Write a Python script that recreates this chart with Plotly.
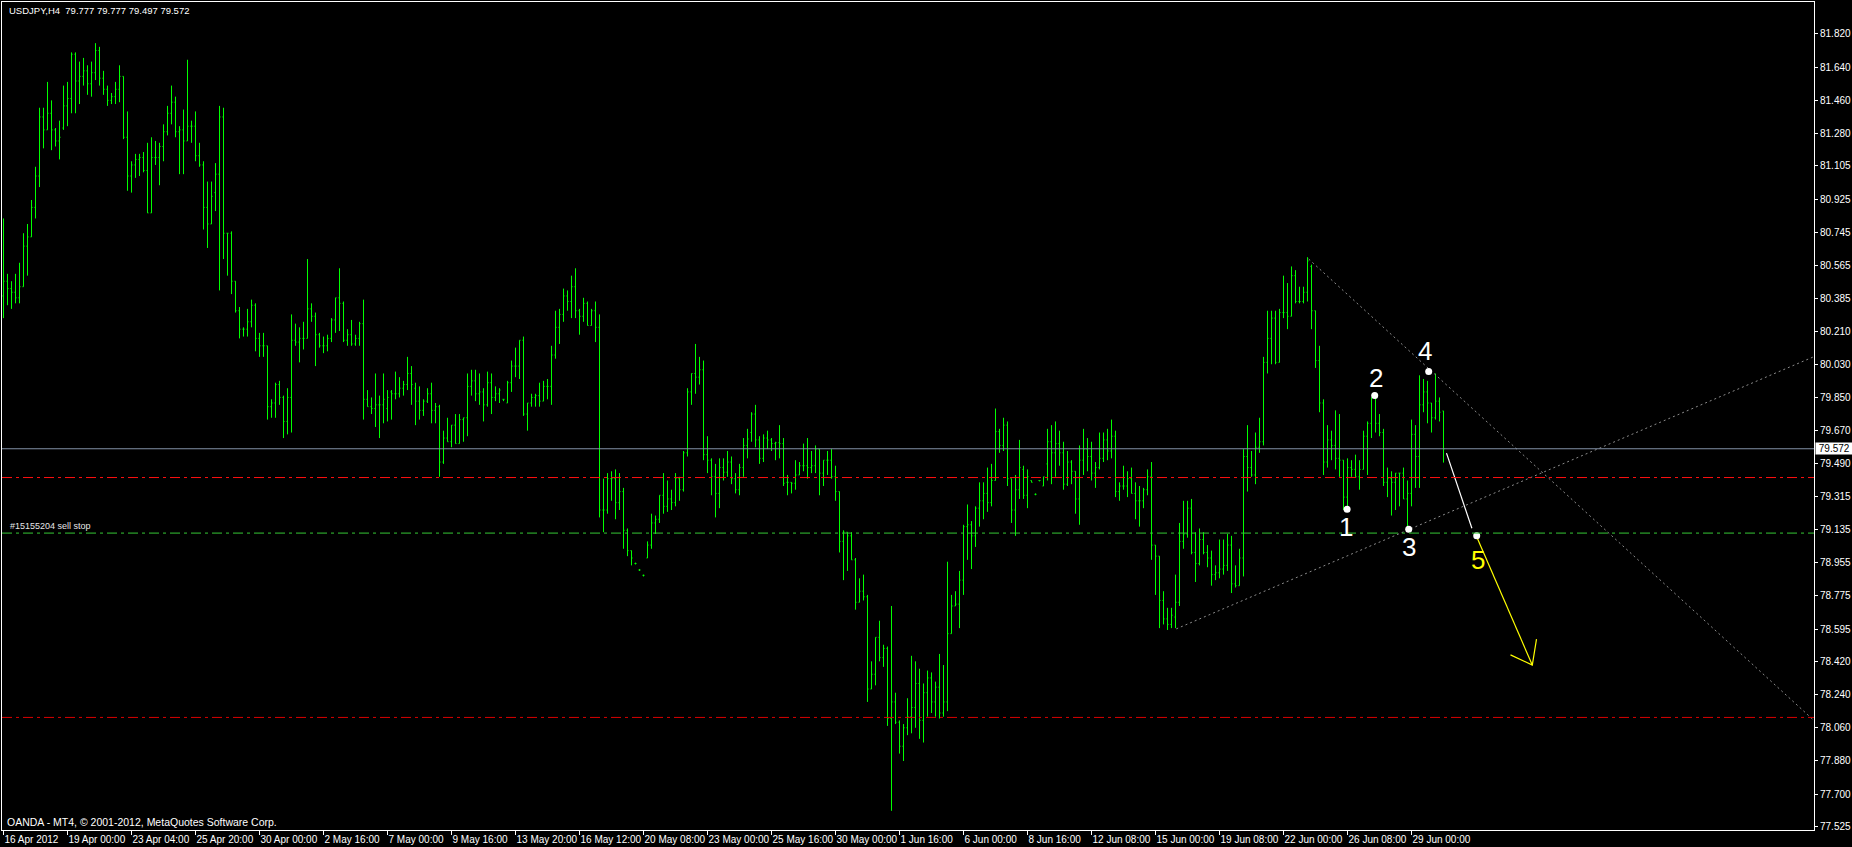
import plotly.graph_objects as go

# ---------------- data (USDJPY H4) ----------------
opens = [
    80.40, 80.48, 80.44, 80.42, 80.39, 80.45, 80.67, 80.72, 80.88, 81.05,
    81.37, 81.30, 81.39, 81.30, 81.24, 81.31, 81.43, 81.47, 81.71, 81.565,
    81.59, 81.62, 81.55, 81.61, 81.73, 81.58, 81.52, 81.46, 81.48, 81.52,
    81.59, 81.26, 81.05, 81.11, 81.14, 81.15, 81.08, 80.85, 81.15, 81.15,
    81.21, 81.29, 81.39, 81.45, 81.29, 81.30, 81.24, 81.32, 81.32, 81.16,
    81.11, 80.88, 80.79, 80.96, 81.06, 81.37, 80.74, 80.74, 80.48, 80.32,
    80.22, 80.22, 80.26, 80.35, 80.17, 80.13, 80.13, 79.80, 79.82, 79.92,
    79.85, 79.72, 79.85, 80.16, 80.15, 80.17, 80.17, 80.33, 80.29, 80.19,
    80.13, 80.13, 80.17, 80.27, 80.39, 80.36, 80.16, 80.19, 80.14, 80.17,
    80.25, 79.84, 79.80, 79.79, 79.81, 79.81, 79.79, 79.88, 79.87, 79.87,
    79.90, 79.92, 79.98, 79.90, 79.83, 79.78, 79.83, 79.87, 79.78, 79.80,
    79.50, 79.63, 79.61, 79.70, 79.60, 79.73, 79.74, 79.91, 79.94, 79.87,
    79.88, 79.81, 79.93, 79.85, 79.87, 79.84, 79.82, 79.93, 80.02, 80.02,
    80.16, 79.76, 79.82, 79.85, 79.86, 79.83, 79.91, 79.91, 80.08, 80.23,
    80.30, 80.40, 80.37, 80.45, 80.32, 80.29, 80.36, 80.24, 80.32, 80.23,
    79.24, 79.24, 79.41, 79.41, 79.28, 79.34, 79.13, 79.02, 78.95, 78.915,
    78.886, 78.98, 79.05, 79.17, 79.19, 79.32, 79.26, 79.30, 79.28, 79.41,
    79.35, 79.55, 79.88, 79.98, 79.96, 80.00, 79.54, 79.51, 79.42, 79.33,
    79.47, 79.445, 79.50, 79.41, 79.35, 79.47, 79.59, 79.66, 79.76, 79.62,
    79.52, 79.63, 79.62, 79.60, 79.605, 79.60, 79.39, 79.39, 79.385, 79.43,
    79.48, 79.48, 79.47, 79.48, 79.57, 79.44, 79.51, 79.51, 79.42, 79.34,
    79.07, 79.12, 79.10, 78.97, 78.74, 78.80, 78.77, 78.27, 78.35, 78.55,
    78.44, 78.49, 78.11, 78.20, 78.09, 77.96, 78.06, 78.12, 78.17, 78.30,
    78.10, 78.25, 78.33, 78.20, 78.28, 78.14, 78.20, 78.57, 78.72, 78.73,
    78.86, 79.15, 79.16, 79.10, 79.25, 79.29, 79.33, 79.28, 79.40, 79.665,
    79.59, 79.70, 79.41, 79.24, 79.35, 79.46, 79.32, 79.40, 79.325, 79.40,
    79.37, 79.49, 79.61, 79.55, 79.60, 79.55, 79.38, 79.50, 79.45, 79.30,
    79.51, 79.57, 79.53, 79.44, 79.47, 79.52, 79.62, 79.56, 79.64, 79.34,
    79.37, 79.37, 79.41, 79.33, 79.29, 79.29, 79.35, 79.42, 79.05, 78.99,
    78.75, 78.65, 78.62, 78.66, 78.74, 79.07, 79.11, 79.25, 79.01, 78.95,
    79.08, 79.01, 78.98, 78.89, 78.90, 78.92, 78.94, 79.05, 78.84, 78.83,
    78.98, 79.53, 79.47, 79.43, 79.58, 79.61, 80.04, 80.17, 80.28, 80.04,
    80.31, 80.31, 80.29, 80.51, 80.37, 80.37, 80.42, 80.56, 80.32, 80.05,
    79.82, 79.50, 79.62, 79.59, 79.52, 79.51, 79.31, 79.47, 79.46, 79.42,
    79.46, 79.64, 79.71, 79.85, 79.71, 79.66, 79.39, 79.41, 79.39, 79.44,
    79.44, 79.30, 79.33, 79.65, 79.53, 79.81, 79.88, 79.82, 79.74, 79.83, 79.777,
]
highs = [
    80.82, 80.52, 80.48, 80.52, 80.58, 80.74, 80.79, 80.92, 81.10, 81.42,
    81.42, 81.56, 81.46, 81.31, 81.35, 81.54, 81.56, 81.72, 81.72, 81.67,
    81.69, 81.65, 81.67, 81.77, 81.75, 81.62, 81.54, 81.50, 81.56, 81.65,
    81.59, 81.40, 81.13, 81.17, 81.17, 81.18, 81.23, 81.26, 81.24, 81.23,
    81.33, 81.43, 81.54, 81.48, 81.32, 81.41, 81.68, 81.35, 81.40, 81.23,
    81.13, 81.02, 81.02, 81.12, 81.43, 81.42, 80.74, 80.75, 80.48, 80.34,
    80.23, 80.33, 80.38, 80.36, 80.20, 80.20, 80.13, 79.84, 79.93, 79.94,
    79.86, 79.90, 80.30, 80.25, 80.23, 80.26, 80.60, 80.36, 80.31, 80.20,
    80.18, 80.19, 80.28, 80.39, 80.55, 80.37, 80.22, 80.27, 80.19, 80.26,
    80.38, 79.89, 79.85, 79.98, 79.86, 79.98, 79.89, 79.89, 79.99, 79.96,
    79.94, 80.07, 80.02, 79.93, 79.91, 79.84, 79.90, 79.93, 79.82, 79.81,
    79.67, 79.74, 79.70, 79.76, 79.76, 79.74, 79.98, 80.00, 80.00, 79.98,
    79.90, 79.99, 79.98, 79.91, 79.90, 79.84, 79.94, 80.05, 80.12, 80.16,
    80.18, 79.82, 79.87, 79.87, 79.93, 79.94, 79.95, 80.13, 80.32, 80.33,
    80.44, 80.43, 80.51, 80.55, 80.33, 80.39, 80.37, 80.33, 80.37, 80.30,
    79.41, 79.44, 79.45, 79.46, 79.44, 79.36, 79.14, 79.02, 78.955, 78.92,
    78.89, 79.07, 79.22, 79.21, 79.32, 79.44, 79.40, 79.35, 79.44, 79.42,
    79.56, 79.90, 79.98, 80.14, 80.07, 80.05, 79.64, 79.52, 79.49, 79.52,
    79.52, 79.56, 79.53, 79.44, 79.49, 79.63, 79.68, 79.77, 79.81, 79.64,
    79.65, 79.67, 79.63, 79.61, 79.70, 79.63, 79.43, 79.39, 79.51, 79.50,
    79.60, 79.63, 79.56, 79.59, 79.57, 79.51, 79.56, 79.57, 79.48, 79.34,
    79.13, 79.12, 79.12, 78.98, 78.87, 78.89, 78.78, 78.42, 78.55, 78.64,
    78.51, 78.50, 78.72, 78.25, 78.10, 78.08, 78.22, 78.45, 78.42, 78.38,
    78.30, 78.37, 78.36, 78.31, 78.46, 78.40, 78.96, 78.78, 78.80, 78.91,
    79.16, 79.27, 79.18, 79.26, 79.39, 79.39, 79.47, 79.49, 79.79, 79.68,
    79.74, 79.72, 79.41, 79.43, 79.62, 79.48, 79.46, 79.40, 79.33, 79.40,
    79.42, 79.68, 79.70, 79.72, 79.67, 79.61, 79.56, 79.51, 79.45, 79.59,
    79.68, 79.63, 79.61, 79.50, 79.66, 79.66, 79.68, 79.73, 79.67, 79.39,
    79.48, 79.45, 79.47, 79.39, 79.37, 79.36, 79.46, 79.50, 79.05, 78.99,
    78.80, 78.71, 78.71, 78.89, 79.17, 79.29, 79.29, 79.30, 79.12, 79.14,
    79.12, 79.05, 79.02, 78.94, 79.08, 79.08, 79.11, 79.10, 78.94, 79.03,
    79.57, 79.70, 79.56, 79.66, 79.74, 80.07, 80.32, 80.32, 80.32, 80.33,
    80.51, 80.47, 80.56, 80.54, 80.45, 80.45, 80.61, 80.57, 80.32, 80.13,
    79.84, 79.70, 79.67, 79.78, 79.76, 79.51, 79.52, 79.51, 79.54, 79.51,
    79.67, 79.72, 79.85, 79.85, 79.76, 79.68, 79.47, 79.45, 79.44, 79.44,
    79.47, 79.40, 79.73, 79.70, 79.97, 79.95, 79.94, 79.82, 79.98, 79.85, 79.777,
]
lows = [
    80.28, 80.35, 80.33, 80.36, 80.36, 80.45, 80.51, 80.72, 80.82, 80.99,
    81.20, 81.30, 81.19, 81.21, 81.14, 81.30, 81.32, 81.39, 81.39, 81.44,
    81.54, 81.49, 81.48, 81.57, 81.54, 81.49, 81.43, 81.44, 81.44, 81.45,
    81.25, 80.97, 80.96, 81.04, 81.05, 81.07, 80.85, 80.85, 81.11, 81.00,
    81.13, 81.27, 81.33, 81.26, 81.06, 81.06, 81.24, 81.23, 81.13, 81.10,
    80.76, 80.66, 80.79, 80.86, 80.43, 80.60, 80.51, 80.41, 80.31, 80.17,
    80.18, 80.18, 80.23, 80.10, 80.07, 80.07, 79.73, 79.74, 79.74, 79.81,
    79.63, 79.65, 79.66, 80.13, 80.04, 80.11, 80.17, 80.26, 80.02, 80.12,
    80.09, 80.10, 80.15, 80.20, 80.21, 80.15, 80.13, 80.13, 80.13, 80.13,
    79.73, 79.80, 79.76, 79.69, 79.63, 79.71, 79.72, 79.73, 79.84, 79.85,
    79.86, 79.89, 79.81, 79.70, 79.73, 79.75, 79.82, 79.71, 79.71, 79.42,
    79.49, 79.61, 79.58, 79.60, 79.60, 79.61, 79.64, 79.86, 79.83, 79.81,
    79.72, 79.80, 79.76, 79.83, 79.82, 79.83, 79.82, 79.88, 79.96, 79.95,
    79.75, 79.67, 79.80, 79.80, 79.80, 79.83, 79.84, 79.81, 80.06, 80.14,
    80.26, 80.32, 80.28, 80.28, 80.19, 80.26, 80.24, 80.24, 80.15, 79.20,
    79.12, 79.22, 79.29, 79.19, 79.24, 79.03, 78.99, 78.94, 78.945, 78.91,
    78.88, 78.98, 79.03, 79.11, 79.17, 79.22, 79.23, 79.24, 79.26, 79.29,
    79.34, 79.53, 79.81, 79.87, 79.92, 79.51, 79.44, 79.32, 79.20, 79.25,
    79.40, 79.42, 79.38, 79.33, 79.32, 79.42, 79.52, 79.61, 79.58, 79.49,
    79.50, 79.57, 79.56, 79.51, 79.52, 79.37, 79.32, 79.33, 79.35, 79.43,
    79.45, 79.41, 79.44, 79.44, 79.32, 79.37, 79.43, 79.41, 79.29, 79.01,
    78.86, 78.91, 78.97, 78.70, 78.74, 78.75, 78.20, 78.27, 78.29, 78.42,
    78.39, 78.07, 77.61, 78.08, 77.92, 77.88, 78.02, 78.03, 78.06, 78.00,
    77.98, 78.12, 78.14, 78.12, 78.11, 78.12, 78.15, 78.57, 78.72, 78.60,
    78.78, 78.97, 78.92, 79.04, 79.15, 79.19, 79.23, 79.26, 79.40, 79.55,
    79.56, 79.37, 79.17, 79.10, 79.30, 79.30, 79.25, 79.39, 79.32, 79.395,
    79.37, 79.40, 79.38, 79.42, 79.48, 79.35, 79.37, 79.38, 79.22, 79.16,
    79.43, 79.45, 79.40, 79.36, 79.46, 79.50, 79.51, 79.52, 79.31, 79.29,
    79.35, 79.31, 79.33, 79.19, 79.15, 79.25, 79.32, 78.97, 78.78, 78.60,
    78.62, 78.59, 78.60, 78.60, 78.72, 79.03, 79.09, 79.00, 78.85, 78.94,
    79.00, 78.93, 78.83, 78.86, 78.87, 78.89, 78.91, 78.79, 78.82, 78.83,
    78.88, 79.34, 79.42, 79.38, 79.55, 79.59, 79.98, 80.03, 80.03, 80.04,
    80.28, 80.22, 80.29, 80.36, 80.36, 80.36, 80.37, 80.22, 80.01, 79.77,
    79.43, 79.47, 79.51, 79.46, 79.42, 79.24, 79.25, 79.42, 79.42, 79.35,
    79.46, 79.43, 79.63, 79.66, 79.64, 79.37, 79.31, 79.21, 79.24, 79.26,
    79.30, 79.15, 79.26, 79.36, 79.36, 79.77, 79.71, 79.66, 79.73, 79.72, 79.497,
]
closes = [
    80.48, 80.44, 80.42, 80.39, 80.45, 80.67, 80.72, 80.88, 81.05, 81.37,
    81.30, 81.39, 81.30, 81.24, 81.26, 81.43, 81.47, 81.71, 81.565, 81.59,
    81.62, 81.55, 81.61, 81.73, 81.58, 81.52, 81.46, 81.48, 81.52, 81.59,
    81.26, 81.05, 81.11, 81.14, 81.15, 81.08, 80.85, 81.15, 81.15, 81.21,
    81.29, 81.39, 81.45, 81.29, 81.30, 81.24, 81.32, 81.32, 81.16, 81.11,
    80.88, 80.79, 80.94, 81.06, 81.37, 80.74, 80.74, 80.48, 80.32, 80.22,
    80.22, 80.26, 80.35, 80.17, 80.13, 80.13, 79.80, 79.82, 79.92, 79.85,
    79.72, 79.85, 80.16, 80.15, 80.17, 80.17, 80.33, 80.29, 80.19, 80.13,
    80.13, 80.17, 80.27, 80.39, 80.36, 80.16, 80.19, 80.14, 80.17, 80.25,
    79.84, 79.80, 79.79, 79.81, 79.81, 79.84, 79.85, 79.87, 79.87, 79.90,
    79.92, 79.98, 79.92, 79.83, 79.78, 79.83, 79.87, 79.78, 79.80, 79.50,
    79.63, 79.61, 79.70, 79.60, 79.73, 79.74, 79.91, 79.94, 79.87, 79.88,
    79.81, 79.93, 79.85, 79.87, 79.89, 79.84, 79.93, 80.02, 80.02, 80.16,
    79.76, 79.82, 79.85, 79.86, 79.83, 79.91, 79.91, 80.08, 80.23, 80.30,
    80.40, 80.37, 80.45, 80.32, 80.29, 80.36, 80.24, 80.32, 80.23, 79.24,
    79.24, 79.41, 79.41, 79.28, 79.34, 79.13, 79.02, 78.98, 78.95, 78.915,
    78.886, 79.05, 79.17, 79.19, 79.32, 79.26, 79.30, 79.28, 79.41, 79.35,
    79.55, 79.88, 79.98, 79.96, 80.00, 79.54, 79.51, 79.42, 79.33, 79.47,
    79.445, 79.50, 79.41, 79.35, 79.47, 79.59, 79.625, 79.76, 79.62, 79.52,
    79.63, 79.62, 79.60, 79.605, 79.60, 79.385, 79.39, 79.385, 79.43, 79.48,
    79.48, 79.47, 79.48, 79.57, 79.44, 79.51, 79.51, 79.42, 79.34, 79.07,
    79.12, 79.10, 78.97, 78.74, 78.80, 78.77, 78.27, 78.35, 78.55, 78.44,
    78.49, 78.11, 78.20, 78.09, 77.96, 78.06, 78.12, 78.17, 78.30, 78.10,
    78.25, 78.33, 78.20, 78.28, 78.14, 78.20, 78.57, 78.72, 78.73, 78.86,
    79.15, 79.16, 79.10, 79.25, 79.29, 79.33, 79.28, 79.40, 79.665, 79.59,
    79.70, 79.41, 79.24, 79.35, 79.47, 79.32, 79.42, 79.39, 79.325, 79.40,
    79.42, 79.61, 79.55, 79.60, 79.55, 79.38, 79.50, 79.45, 79.30, 79.51,
    79.57, 79.53, 79.44, 79.47, 79.52, 79.62, 79.56, 79.64, 79.34, 79.37,
    79.37, 79.41, 79.33, 79.29, 79.29, 79.35, 79.42, 79.05, 78.99, 78.75,
    78.65, 78.62, 78.67, 78.74, 79.07, 79.11, 79.25, 79.01, 78.95, 79.08,
    79.01, 78.98, 78.89, 78.90, 78.92, 78.94, 79.05, 78.84, 78.83, 78.98,
    79.53, 79.47, 79.43, 79.58, 79.61, 80.04, 80.17, 80.28, 80.04, 80.31,
    80.31, 80.29, 80.51, 80.37, 80.37, 80.42, 80.59, 80.32, 80.05, 79.82,
    79.50, 79.62, 79.59, 79.52, 79.51, 79.31, 79.47, 79.46, 79.42, 79.46,
    79.64, 79.71, 79.85, 79.71, 79.66, 79.39, 79.41, 79.39, 79.44, 79.44,
    79.30, 79.33, 79.65, 79.53, 79.81, 79.88, 79.82, 79.74, 79.83, 79.77, 79.572,
]
bar_index = list(range(1, len(closes) + 1))

# time axis labels (one every 16 H4 bars, starting with bar 1)
time_labels = [
    "16 Apr 2012", "19 Apr 00:00", "23 Apr 04:00", "25 Apr 20:00", "30 Apr 00:00",
    "2 May 16:00", "7 May 00:00", "9 May 16:00", "13 May 20:00", "16 May 12:00",
    "20 May 08:00", "23 May 00:00", "25 May 16:00", "30 May 00:00", "1 Jun 16:00",
    "6 Jun 00:00", "8 Jun 16:00", "12 Jun 08:00", "15 Jun 00:00", "19 Jun 08:00",
    "22 Jun 00:00", "26 Jun 08:00", "29 Jun 00:00",
]
time_label_bars = [1 + 16 * k for k in range(len(time_labels))]

price_labels = [
    "81.820", "81.640", "81.460", "81.280", "81.105", "80.925", "80.745", "80.565",
    "80.385", "80.210", "80.030", "79.850", "79.670", "79.490", "79.315", "79.135",
    "78.955", "78.775", "78.595", "78.420", "78.240", "78.060", "77.880", "77.700",
    "77.525",
]

# horizontal levels: bid line, red level, sell-stop order, lower red level
bid_price = 79.572
level_upper_red = 79.416
sell_stop_price = 79.115
level_lower_red = 78.116

# trend lines (bar index, price)
trend_down_x = [327.3, 453.6]
trend_down_y = [80.60, 78.10]
trend_up_x = [294.2, 453.6]
trend_up_y = [78.596, 80.071]

# wave points
wave_labels = ["1", "2", "3", "4", "5"]
wave_x = [336.9, 343.8, 352.3, 357.3, 369.3]
wave_y = [79.244, 79.860, 79.136, 79.990, 79.100]
wave_label_x = [336.5, 344.0, 352.4, 356.4, 369.7]
wave_label_y = [79.148, 79.956, 79.040, 80.100, 78.970]

# projection: white leg into point 5, yellow arrow out of it
leg_x = [361.75, 368.1]
leg_y = [79.548, 79.141]
arrow_x = [369.4, 383.2, None, 377.75, 383.2, 384.25]
arrow_y = [79.09, 78.40, None, 78.455, 78.40, 78.54]

# ---------------- figure ----------------
GREEN = "#00ff00"
FONT = "Liberation Sans, Arial, sans-serif"
fig = go.Figure()

fig.add_trace(go.Ohlc(
    x=bar_index, open=opens, high=highs, low=lows, close=closes,
    increasing=dict(line=dict(color=GREEN, width=1)),
    decreasing=dict(line=dict(color=GREEN, width=1)),
    tickwidth=0.25, hoverinfo="skip", showlegend=False,
))

dot_style = dict(color="#8c8c8c", width=1, dash="2px,3px")
fig.add_trace(go.Scatter(x=trend_down_x, y=trend_down_y, mode="lines",
                         line=dot_style, hoverinfo="skip", showlegend=False))
fig.add_trace(go.Scatter(x=trend_up_x, y=trend_up_y, mode="lines",
                         line=dot_style, hoverinfo="skip", showlegend=False))
fig.add_trace(go.Scatter(x=leg_x, y=leg_y, mode="lines",
                         line=dict(color="#ffffff", width=1.2), hoverinfo="skip", showlegend=False))
fig.add_trace(go.Scatter(x=arrow_x, y=arrow_y, mode="lines",
                         line=dict(color="#ffff00", width=1.2), hoverinfo="skip", showlegend=False))
fig.add_trace(go.Scatter(x=wave_x, y=wave_y, mode="markers",
                         marker=dict(color="#ffffff", size=7, line=dict(width=0)),
                         hoverinfo="skip", showlegend=False))

dashdot = "10px,4px,3px,4px"
shapes = [
    dict(type="line", xref="paper", x0=0, x1=1, yref="y", y0=bid_price, y1=bid_price,
         line=dict(color="#8290a6", width=1)),
    dict(type="line", xref="paper", x0=0, x1=1, yref="y", y0=level_upper_red, y1=level_upper_red,
         line=dict(color="#ff1010", width=1, dash=dashdot)),
    dict(type="line", xref="paper", x0=0, x1=1, yref="y", y0=sell_stop_price, y1=sell_stop_price,
         line=dict(color="#36c836", width=1, dash=dashdot)),
    dict(type="line", xref="paper", x0=0, x1=1, yref="y", y0=level_lower_red, y1=level_lower_red,
         line=dict(color="#d80000", width=1, dash=dashdot)),
]

annotations = []
for lab, lx, ly in zip(wave_labels, wave_label_x, wave_label_y):
    annotations.append(dict(
        x=lx, y=ly, xref="x", yref="y", text=lab, showarrow=False,
        font=dict(family=FONT, size=26, color="#ffff00" if lab == "5" else "#ffffff"),
        xanchor="center", yanchor="middle"))

annotations += [
    dict(x=0.0028, y=0.9895, xref="paper", yref="paper", xanchor="left", yanchor="middle",
         text="USDJPY,H4\u00a0 79.777 79.777 79.497 79.572", showarrow=False,
         font=dict(family=FONT, size=9.5, color="#ffffff")),
    dict(x=0.0017, y=0.0097, xref="paper", yref="paper", xanchor="left", yanchor="middle",
         text="OANDA - MT4, © 2001-2012, MetaQuotes Software Corp.", showarrow=False,
         font=dict(family=FONT, size=10.5, color="#ffffff")),
    dict(x=0.0033, y=sell_stop_price, xref="paper", yref="y", xanchor="left", yanchor="bottom",
         text="#15155204 sell stop", showarrow=False,
         font=dict(family=FONT, size=9, color="#e6e6e6")),
    dict(x=1, y=bid_price, xref="paper", yref="y", xanchor="left", yanchor="middle",
         xshift=1, text="\u00a079.572\u00a0", showarrow=False, bgcolor="#ffffff",
         borderpad=0,
         font=dict(family=FONT, size=10, color="#000000")),
]

fig.update_layout(
    width=1852, height=847,
    margin=dict(l=2, r=38, t=2, b=17, autoexpand=False),
    paper_bgcolor="#000000", plot_bgcolor="#000000",
    showlegend=False, hovermode=False,
    shapes=shapes, annotations=annotations,
    xaxis=dict(
        type="linear", range=[0.625, 453.625],
        tickmode="array", tickvals=time_label_bars, ticktext=time_labels,
        ticks="outside", ticklen=4, tickcolor="#ffffff", tickwidth=1,
        tickangle=0,
        ticklabelposition="outside right",
        tickfont=dict(family="Liberation Sans Narrow, Liberation Sans, Arial, sans-serif",
                      size=10, color="#ffffff"),
        showgrid=False, zeroline=False,
        showline=True, linecolor="#ffffff", linewidth=1, mirror=True,
        rangeslider=dict(visible=False), fixedrange=True,
    ),
    yaxis=dict(
        side="right", range=[77.506, 81.993],
        tickmode="array", tickvals=[float(v) for v in price_labels], ticktext=price_labels,
        ticks="outside", ticklen=3, tickcolor="#ffffff", tickwidth=1,
        tickfont=dict(family=FONT, size=10, color="#ffffff"),
        showgrid=False, zeroline=False,
        showline=True, linecolor="#ffffff", linewidth=1, mirror=True, fixedrange=True,
    ),
)

fig.write_html(
    "out.html",
    config={"displayModeBar": False},
    post_script="document.body.style.margin='0';document.body.style.overflow='hidden';",
)
